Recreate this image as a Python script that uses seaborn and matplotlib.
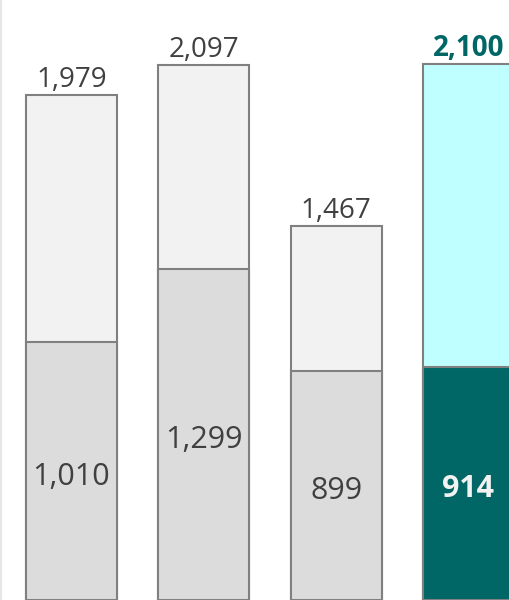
import numpy as np
import pandas as pd
import matplotlib
matplotlib.use("Agg")
import matplotlib.pyplot as plt
import seaborn as sns

# data
categories = ["A", "B", "C", "D"]
totals = [1979, 2097, 1467, 2100]
lower = [1010, 1299, 899, 914]

top_colors = ["#f2f2f2", "#f2f2f2", "#f2f2f2", "#c0ffff"]
low_colors = ["#dcdcdc", "#dcdcdc", "#dcdcdc", "#006666"]

sns.set_style("white")
plt.rcParams["font.family"] = ["Open Sans", "DejaVu Sans"]

df = pd.DataFrame({"cat": categories, "total": totals, "lower": lower})

fig = plt.figure(figsize=(5.1, 6.0), dpi=100)
ax = fig.add_axes([0, 0, 1, 1])

bw = 0.688
sns.barplot(data=df, x="cat", y="total", hue="cat", palette=top_colors,
            saturation=1, edgecolor="#808080", linewidth=1.5, width=bw,
            legend=False, ax=ax)
sns.barplot(data=df, x="cat", y="lower", hue="cat", palette=low_colors,
            saturation=1, edgecolor="#808080", linewidth=1.5, width=bw,
            legend=False, ax=ax)

# labels
for i, (t, l) in enumerate(zip(totals, lower)):
    hi = i == len(totals) - 1
    ax.text(i, t + 4, f"{t:,}", ha="center", va="bottom", fontsize=20,
            color="#006666" if hi else "#404040",
            fontweight="bold" if hi else "normal")
    ax.text(i, l / 2 - 22, f"{l:,}", ha="center", va="center", fontsize=22,
            color="#f2f2f2" if hi else "#404040",
            fontweight="bold" if hi else "normal")

ax.set_xlim(-0.54, 3.314)
ax.set_ylim(0, 2352)
ax.set_xticks([])
ax.set_yticks([])
ax.set_xlabel("")
ax.set_ylabel("")
for s in ["top", "right", "bottom"]:
    ax.spines[s].set_visible(False)
ax.spines["left"].set_color("#e6e6e6")
ax.spines["left"].set_linewidth(3)

fig.savefig("out.png", dpi=100)
